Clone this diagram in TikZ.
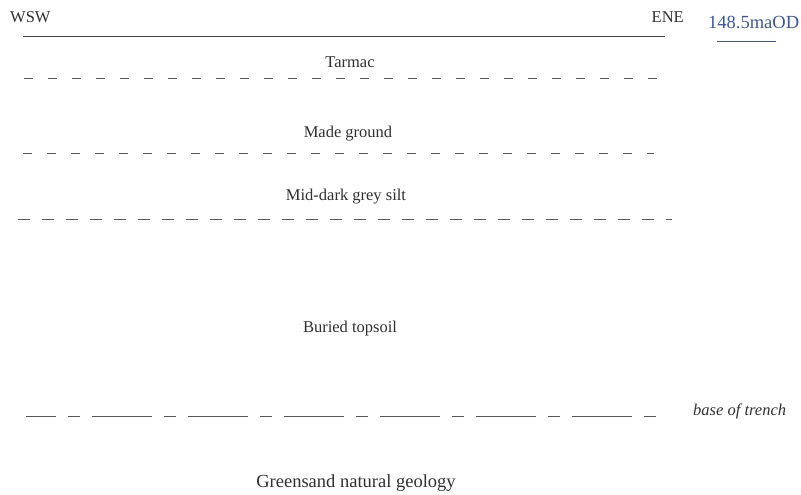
\documentclass[tikz,border=0pt]{standalone}
\usepackage{fontspec}
\setmainfont{Liberation Serif}
\definecolor{txt}{HTML}{303030}
\definecolor{ln}{HTML}{404040}
\definecolor{dsh}{HTML}{555555}
\definecolor{od}{HTML}{3A55A8}
\tikzset{
  lbl/.style={inner sep=0pt, anchor=base, text=txt, font=\fontsize{16.5}{18}\selectfont},
  biglbl/.style={lbl, font=\fontsize{18.5}{20}\selectfont},
  layerline/.style={draw=dsh, line width=0.9pt, dash pattern=on 9pt off 15pt},
  trenchline/.style={draw=dsh, line width=0.9pt, dash pattern=on 60pt off 12pt on 12pt off 12pt, dash phase=30pt},
}
\begin{document}
\begin{tikzpicture}[x=1pt,y=-1pt]
\useasboundingbox (0,0) rectangle (801,495);
% top line
\coordinate (t1) at (23,37); \coordinate (t2) at (665,37);
\draw[ln, line width=1pt] (t1) -- (t2);
\node[lbl, anchor=base west] (wsw) at (10,23) {WSW};
\node[lbl, anchor=base east] (ene) at (684,23) {ENE};
\node[biglbl, anchor=base west, text=od] (od) at (708,29) {148.5maOD};
\coordinate (u1) at (717,41.5); \coordinate (u2) at (776,41.5);
\draw[od, line width=1pt] (u1) -- (u2);
% Tarmac
\node[lbl] (tarmac) at (350,68) {Tarmac};
\coordinate (a1) at (24,78); \coordinate (a2) at (669,78);
\draw[layerline] (a1) -- (a2);
% Made ground
\node[lbl] (made) at (348,137) {Made ground};
\coordinate (b1) at (23,153); \coordinate (b2) at (654,153);
\draw[layerline] (b1) -- (b2);
% Silt
\node[lbl] (silt) at (346,200) {Mid-dark grey silt};
\coordinate (c1) at (18,219); \coordinate (c2) at (672,219);
\draw[draw=dsh, line width=0.9pt, dash pattern=on 12pt off 12pt] (c1) -- (c2);
% Buried topsoil
\node[lbl] (topsoil) at (350,332) {Buried topsoil};
% base of trench
\coordinate (d1) at (26,416); \coordinate (d2) at (657,416);
\draw[trenchline] (d1) -- (d2);
\node[lbl, anchor=base west, font=\fontsize{16.5}{18}\selectfont\itshape] (base) at (693,415) {base of trench};
% Greensand
\node[biglbl] (green) at (356,487) {Greensand natural geology};
\end{tikzpicture}
\end{document}
